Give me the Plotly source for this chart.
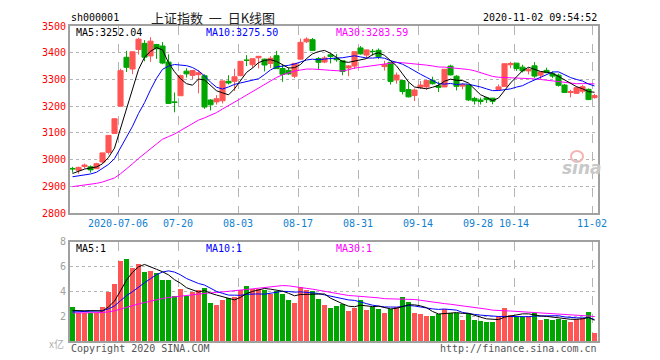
import plotly.graph_objects as go

# ---------------- data ----------------
dates = ["06-22","06-23","06-24","06-29","06-30","07-01","07-02","07-03",
         "07-06","07-07","07-08","07-09","07-10","07-13","07-14","07-15","07-16","07-17",
         "07-20","07-21","07-22","07-23","07-24","07-27","07-28","07-29","07-30","07-31",
         "08-03","08-04","08-05","08-06","08-07","08-10","08-11","08-12","08-13","08-14",
         "08-17","08-18","08-19","08-20","08-21","08-24","08-25","08-26","08-27","08-28",
         "08-31","09-01","09-02","09-03","09-04","09-07","09-08","09-09","09-10","09-11",
         "09-14","09-15","09-16","09-17","09-18","09-21","09-22","09-23","09-24","09-25",
         "09-28","09-29","09-30","10-09","10-12","10-13","10-14","10-15","10-16",
         "10-19","10-20","10-21","10-22","10-23","10-26","10-27","10-28","10-29","10-30",
         "11-02"]

opens = [2967,2960,2974,2973,2966,2991,3027,3098,
         3200,3383,3339,3412,3435,3388,3431,3425,3365,3216,
         3239,3331,3315,3318,3314,3223,3216,3220,3293,3293,
         3314,3372,3355,3381,3376,3360,3389,3341,3334,3312,
         3376,3441,3449,3378,3365,3392,3379,3370,3343,3350,
         3418,3391,3405,3409,3348,3364,3298,3296,3262,3240,
         3271,3272,3297,3276,3272,3350,3312,3275,3279,3229,
         3223,3231,3230,3262,3274,3355,3361,3346,3332,
         3351,3316,3334,3321,3316,3279,3251,3248,3256,3263,
         3232]
highs = [2973,2974,2985,2978,2988,3026,3091,3155,
         3340,3407,3403,3456,3447,3458,3433,3440,3394,3251,
         3318,3342,3336,3334,3319,3226,3241,3294,3316,3340,
         3367,3391,3378,3388,3378,3387,3407,3355,3345,3361,
         3453,3458,3455,3384,3388,3399,3395,3371,3354,3404,
         3425,3411,3414,3416,3370,3364,3326,3296,3289,3266,
         3294,3296,3310,3292,3338,3355,3316,3287,3281,3235,
         3232,3235,3230,3281,3359,3366,3361,3355,3344,
         3365,3328,3344,3330,3322,3283,3261,3275,3280,3266,
         3246]
lows = [2951,2947,2967,2951,2965,2985,3019,3096,
        3200,3328,3320,3393,3368,3366,3377,3357,3210,3177,
        3238,3307,3301,3248,3190,3184,3206,3210,3281,3257,
        3312,3350,3343,3341,3330,3343,3340,3291,3317,3305,
        3376,3436,3407,3339,3361,3360,3366,3316,3312,3339,
        3393,3380,3389,3376,3333,3281,3284,3244,3233,3219,
        3264,3262,3281,3253,3271,3315,3259,3263,3219,3206,
        3206,3212,3207,3258,3272,3342,3332,3326,3319,
        3306,3302,3324,3305,3273,3250,3233,3246,3248,3224,
        3228]
closes = [2965.3,2970.6,2979.6,2961.5,2984.7,3025.1,3090.6,3152.8,
          3332.9,3345.3,3403.4,3450.6,3383.3,3443.3,3414.6,3361.3,3210.1,3214.1,
          3314.1,3320.9,3333.2,3325.1,3196.8,3205.2,3227.9,3294.6,3286.8,3310.0,
          3367.9,3371.7,3377.6,3386.5,3354.0,3379.3,3340.3,3319.3,3320.7,3360.1,
          3438.8,3451.1,3408.1,3363.9,3380.7,3385.6,3373.6,3329.7,3350.6,3403.8,
          3395.7,3410.6,3404.8,3384.9,3355.4,3292.6,3316.4,3254.6,3234.8,3260.3,
          3278.8,3295.7,3283.9,3270.4,3338.1,3316.9,3274.3,3279.7,3223.2,3219.4,
          3217.5,3224.4,3218.1,3272.1,3358.8,3359.8,3340.5,3332.2,3336.4,
          3312.5,3328.0,3325.2,3312.5,3278.0,3251.1,3254.3,3269.2,3272.7,3224.5,
          3239.5]
# closes of the 29 sessions before the first shown day (warm-up for MA lines)
prior_closes = [2891.6,2898.1,2870.3,2868.5,2875.4,2898.6,2883.7,2867.9,2813.8,2817.0,
                2846.5,2836.8,2836.8,2852.4,2915.4,2921.4,2923.4,2919.3,2930.8,2937.8,
                2943.8,2943.3,2920.9,2919.7,2890.0,2931.7,2935.9,2939.3,2967.6]

volumes = [2.78,2.32,2.32,2.32,2.32,2.78,4.00,4.64,
           6.48,6.60,5.92,6.20,5.60,5.65,5.47,4.94,4.94,3.66,
           4.24,3.66,3.98,4.13,4.32,3.12,2.94,3.36,3.52,3.60,
           4.13,4.46,4.24,4.20,4.10,3.85,4.05,3.85,3.34,3.10,
           4.38,4.10,4.05,3.44,2.94,2.70,2.86,3.04,2.46,2.72,
           3.34,2.54,2.78,2.64,2.32,2.64,2.78,3.60,3.20,2.32,
           2.24,2.06,2.06,2.19,2.64,2.27,2.27,1.74,2.19,1.74,
           1.66,1.58,1.58,2.06,2.72,2.14,2.00,2.00,2.06,
           2.27,1.74,1.84,1.74,1.84,1.74,1.58,1.84,1.92,2.38,
           0.64]
# estimated volumes of the 29 sessions before the first shown day (warm-up for MA lines)
prior_volumes = [2.30,2.25,2.35,2.10,2.05,2.20,2.30,2.15,2.05,2.40,
                 2.00,2.20,2.10,2.05,2.15,2.60,2.45,2.30,2.20,2.10,
                 2.25,2.20,2.10,2.35,2.20,2.45,2.30,2.25,2.50]

tick_dates = ["07-06","07-20","08-03","08-17","08-31","09-14","09-28","10-14","11-02"]
tick_labels = ["2020-07-06","07-20","08-03","08-17","08-31","09-14","09-28","10-14","11-02"]

price_ticks = [2800,2900,3000,3100,3200,3300,3400,3500]
vol_ticks = [2,4,6,8]

# ---------------- helpers ----------------
def moving_avg(prior, vals, n):
    full = list(prior) + list(vals)
    off = len(prior)
    out = []
    for i in range(len(vals)):
        w = full[off + i - n + 1: off + i + 1]
        out.append(sum(w) / len(w))
    return out

N = len(dates)
idx = list(range(N))
xc = [i + 0.42 for i in idx]

RED = "#ff5555"
GREEN = "#00a600"

ma5 = moving_avg(prior_closes, closes, 5)
ma10 = moving_avg(prior_closes, closes, 10)
ma30 = moving_avg(prior_closes, closes, 30)
vma5 = moving_avg(prior_volumes, volumes, 5)
vma10 = moving_avg(prior_volumes, volumes, 10)
vma30 = moving_avg(prior_volumes, volumes, 30)

vol_colors = [RED if c >= o else GREEN for o, c in zip(opens, closes)]

fig = go.Figure()
fig.add_trace(go.Candlestick(
    x=xc, open=opens, high=highs, low=lows, close=closes,
    increasing=dict(line=dict(color=RED, width=1), fillcolor=RED),
    decreasing=dict(line=dict(color=GREEN, width=1), fillcolor=GREEN),
    whiskerwidth=0, xaxis="x", yaxis="y", showlegend=False, hoverinfo="skip"))

for ys, col in [(ma30, "#ff00ff"), (ma10, "#0000ff"), (ma5, "#000000")]:
    fig.add_trace(go.Scatter(x=xc, y=ys, mode="lines", line=dict(color=col, width=1),
                             xaxis="x", yaxis="y", showlegend=False, hoverinfo="skip"))

fig.add_trace(go.Bar(x=xc, y=volumes, width=0.85, marker=dict(color=vol_colors, line=dict(width=0)),
                     xaxis="x2", yaxis="y2", showlegend=False, hoverinfo="skip"))
for ys, col in [(vma30, "#ff00ff"), (vma10, "#0000ff"), (vma5, "#000000")]:
    fig.add_trace(go.Scatter(x=xc, y=ys, mode="lines", line=dict(color=col, width=1),
                             xaxis="x2", yaxis="y2", showlegend=False, hoverinfo="skip"))

tickvals = [dates.index(d) for d in tick_dates]

# page pixel layout (the page body has an 8px margin, so the figure starts at 8,8)
OFF = 8
PL, PR_, PT, PB = 70, 598, 21, 341          # plot area in page pixels
W, H = 660 - OFF, 360 - OFF
L, T = PL - OFF, PT - OFF
R, B = 660 - PR_, 360 - PB
PW, PH = PR_ - PL, PB - PT

def px(x):
    return (x - PL) / PW

def py(y):
    return (PB - y) / PH

MONO = "DejaVu Sans Mono"
AX = "#a0a0a0"

common_x = dict(range=[0, N], showgrid=True, gridcolor="#b4b4b4", griddash="dash", gridwidth=1,
                showline=True, mirror=True, linecolor=AX, linewidth=2, ticks="",
                zeroline=False, tickvals=tickvals, fixedrange=True)

fig.update_layout(
    width=W, height=H,
    margin=dict(l=L, r=R, t=T, b=B, pad=0),
    paper_bgcolor="white", plot_bgcolor="white",
    boxgap=0.15, boxgroupgap=0, bargap=0,
    xaxis=dict(**common_x, domain=[0, 1], anchor="y", ticktext=tick_labels,
               tickfont=dict(family=MONO, size=10, color="#1080d0"),
               rangeslider=dict(visible=False)),
    xaxis2=dict(**common_x, domain=[0, 1], anchor="y2", showticklabels=False),
    yaxis=dict(domain=[py(211), 1], range=[2800, 3500], tickvals=price_ticks,
               showgrid=True, gridcolor="#b4b4b4", griddash="dot", gridwidth=1,
               showline=True, mirror=True, linecolor=AX, linewidth=2, ticks="",
               zeroline=False, tickfont=dict(family=MONO, size=10, color="#ff0000"),
               anchor="x", fixedrange=True),
    yaxis2=dict(domain=[0, py(240)], range=[0, 8], tickvals=vol_ticks,
                showgrid=True, gridcolor="#b4b4b4", griddash="dot", gridwidth=1,
                showline=True, mirror=True, linecolor=AX, linewidth=2, ticks="",
                zeroline=False, tickfont=dict(family=MONO, size=10, color="#a0a0a0"),
                anchor="x2", fixedrange=True),
)

def ann(text, x, y, color="#000", size=10, xanchor="left", family=MONO, **kw):
    fig.add_annotation(text=text, x=px(x), y=py(y), xref="paper", yref="paper",
                       xanchor=xanchor, yanchor="middle", showarrow=False,
                       font=dict(family=family, size=size, color=color), **kw)

ann("sh000001", 69, 12)
ann("上证指数 \u00a0一\u00a0 日K线图", 213, 12, color="#222", size=13, xanchor="center",
    family="Noto Sans CJK SC")
ann("2020-11-02 09:54:52", 599, 12, xanchor="right")
ann(f"MA5:{ma5[-1]:.2f}", 74, 28)
ann(f"MA10:{ma10[-1]:.2f}", 204, 28, color="#0000ff")
ann(f"MA30:{ma30[-1]:.2f}", 334, 28, color="#ff00ff")
ann("MA5:1", 74, 247)
ann("MA10:1", 204, 247, color="#0000ff")
ann("MA30:1", 334, 247, color="#ff00ff")
ann("x亿", 66, 344, color="#b0b0b0", size=10, xanchor="right", family="Noto Sans CJK SC")
ann("Copyright 2020 SINA.COM", 69, 349, color="#555")
ann("http://finance.sina.com.cn", 599, 349, color="#555", xanchor="right")
ann("<i><b>sina</b></i>", 582, 165, color="#c8c8c8", size=17, xanchor="center",
    family="DejaVu Sans")
fig.add_shape(type="circle", xref="paper", yref="paper",
              x0=px(571), x1=px(583), y0=py(159), y1=py(148),
              line=dict(color="#f4b4b4", width=2))

fig.write_html("out.html")
